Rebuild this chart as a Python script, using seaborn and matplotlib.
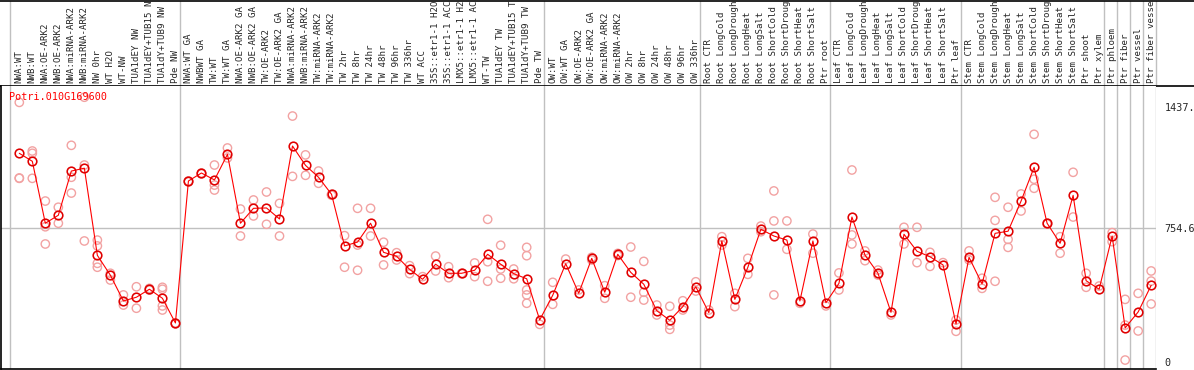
import matplotlib.pyplot as plt
import numpy as np
import pandas as pd
import seaborn as sns

gene_id = "Potri.010G169600"

samples = [
    "NWA:WT", "NWB:WT", "NWA:OE-ARK2", "NWB:OE-ARK2", "NWA:miRNA-ARK2",
    "NWB:miRNA-ARK2", "NW 0hr", "WT H2O", "WT-NW", "TUA1dEY NW",
    "TUA1dEY+TUB15 NW", "TUA1dY+TUB9 NW", "Pde NW",
    "NWA:WT GA", "NWBWT GA", "TW:WT", "TW:WT GA", "NWA:OE-ARK2 GA",
    "NWB:OE-ARK2 GA", "TW:OE-ARK2", "TW:OE-ARK2 GA", "NWA:miRNA-ARK2 GA",
    "NWB:miRNA-ARK2 GA", "TW:miRNA-ARK2", "TW:miRNA-ARK2", "TW 2hr", "TW 8hr",
    "TW 24hr", "TW 48hr", "TW 96hr", "TW 336hr", "WT ACC", "35S::etr1-1 H2O",
    "35S::etr1-1 ACC", "LMX5::etr1-1 H2O", "LMX5::etr1-1 ACC", "WT-TW",
    "TUA1dEY TW", "TUA1dEY+TUB15 TW", "TUA1dY+TUB9 TW", "Pde TW",
    "OW:WT", "OW:WT GA", "OW:OE-ARK2", "OW:OE-ARK2 GA", "OW:miRNA-ARK2",
    "OW:miRNA-ARK2", "OW 2hr", "OW 8hr", "OW 24hr", "OW 48hr", "OW 96hr",
    "OW 336hr",
    "Root CTR", "Root LongCold", "Root LongDrought", "Root LongHeat",
    "Root LongSalt", "Root ShortCold", "Root ShortDrought", "Root ShortHeat",
    "Root ShortSalt", "Ptr root",
    "Leaf CTR", "Leaf LongCold", "Leaf LongDrought", "Leaf LongHeat",
    "Leaf LongSalt", "Leaf ShortCold", "Leaf ShortDrought", "Leaf ShortHeat",
    "Leaf ShortSalt", "Ptr leaf",
    "Stem CTR", "Stem LongCold", "Stem LongDrought", "Stem LongHeat",
    "Stem LongSalt", "Stem ShortCold", "Stem ShortDrought", "Stem ShortHeat",
    "Stem ShortSalt", "Ptr shoot", "Ptr xylem",
    "Ptr phloem", "Ptr fiber", "Ptr vessel", "Ptr fiber vessel",
]

mean_expr = [
    1176, 1131, 782, 827, 1076, 1092, 601, 489, 344, 365, 410, 359, 220,
    1020, 1065, 1026, 1170, 782, 866, 868, 806, 1217, 1108, 1041, 945, 654,
    676, 782, 618, 596, 522, 466, 551, 500, 500, 517, 607, 551, 498, 469, 237,
    376, 554, 387, 584, 393, 607, 505, 438, 289, 235, 312, 424,
    278, 682, 353, 534, 748, 710, 687, 344, 682, 334,
    443, 817, 603, 500, 280, 720, 624, 593, 547, 214,
    590, 440, 725, 737, 907, 1097, 782, 669, 939, 458, 410,
    710, 192, 282, 432,
]

replicates = [
    [1463, 1035, 1037], [1189, 1176, 1035], [907, 762, 665], [872, 782],
    [1221, 1041, 952], [1492, 1110, 682], [687, 654, 556, 534], [500, 462],
    [378, 321], [424, 303], [405, 415], [421, 410, 316, 293], [220, 215],
    [1020, 1015], [1065, 1060], [1110, 997, 969], [1206, 1150], [862, 710],
    [913, 823], [958, 776], [894, 710], [1386, 1046], [1167, 1052],
    [1076, 1007], [945, 940], [712, 534], [866, 517, 659], [866, 710],
    [675, 547], [616, 575], [543, 498], [481], [597, 513], [537, 475],
    [500, 497], [558, 481], [804, 565, 455], [658, 524, 472], [524, 469],
    [646, 599, 406, 378, 331], [212],
    [449, 325], [580], [406], [590, 575], [430, 359], [600, 612], [648, 365],
    [567, 393, 349], [321, 265], [314, 208, 184], [345, 293], [452, 400],
    [293], [706, 659], [387, 312], [584, 494], [766, 734], [964, 795, 378],
    [795, 635], [331], [721, 613], [316],
    [502, 406], [1082, 716, 665], [626, 571], [518, 490], [265], [759, 665],
    [759, 560], [618, 539], [560], [237, 173],
    [626, 575], [472, 415], [928, 798, 455], [872, 691, 646], [947, 851],
    [1283, 1030, 979], [782, 778], [706, 613], [1069, 817], [500, 421], [428],
    [729, 678], [353, 11, 208], [387, 175], [513, 456, 327],
]

# last sample index of each tissue / experiment block
group_ends = [12, 40, 52, 62, 72, 83, 84, 85, 86, 87]
ref_level = 754.6
tick_values = [0, 754.6, 1437.2]
tick_labels = ["0", "754.6", "1437.2"]

# ---- pixel layout of the original picture ----
W, H = 1194, 370
X0_PX, STEP_PX = 19.3, 13.01          # pixel of first sample, pixels per sample
ZERO_PX, UNITS_PER_PX = 362.0, 5.635  # y pixel of value 0, value per pixel
RED = "#ff0000"
DARK_RED = "#e00000"
PINK = "#f2a2a2"
GRID = "#c0c0c0"
MONO = "DejaVu Sans Mono"


def xlim_px(left, right):
    return ((left - X0_PX) / STEP_PX, (right - X0_PX) / STEP_PX)


sns.set_style("white")
plt.rcParams["font.family"] = [MONO, "DejaVu Sans"]

idx = np.arange(len(samples))
mean_df = pd.DataFrame({"idx": idx, "value": mean_expr})
rep_df = pd.DataFrame(
    [(i, v) for i, reps in enumerate(replicates) for v in reps],
    columns=["idx", "value"],
)

fig = plt.figure(figsize=(W / 100, H / 100), dpi=100)

# header strip with sample names (long names run off the top, as in the source)
top, bottom = 86, 369
hdr = fig.add_axes([0, (H - top) / H, 1, (top - 0.5) / H])
hdr.set_xlim(*xlim_px(0, W))
hdr.set_ylim(0, top)
hdr.set_xticks([])
hdr.set_yticks([])
for side in ("left", "right"):
    hdr.spines[side].set_visible(False)
for side in ("top", "bottom"):
    hdr.spines[side].set_color("black")
    hdr.spines[side].set_linewidth(1.2)
for i, name in enumerate(samples):
    hdr.text(i, 3, name, rotation=90, ha="center", va="bottom",
             fontsize=6.6, family=MONO, clip_on=True)

# main expression panel
ax = fig.add_axes([1 / W, (H - bottom) / H, (1156 - 1) / W, (bottom - top) / H])
ax.set_xlim(*xlim_px(1, 1156))
ax.set_ylim((ZERO_PX - bottom) * UNITS_PER_PX, (ZERO_PX - top) * UNITS_PER_PX)

seps = [-0.7] + [e + 0.35 for e in group_ends]
for s in seps:
    hdr.axvline(s, color=GRID, lw=1, zorder=0)
    ax.axvline(s, color=GRID, lw=1, zorder=0)
ax.axhline(ref_level, color=GRID, lw=1, zorder=0)

sns.scatterplot(data=rep_df, x="idx", y="value", ax=ax, marker="o", s=36,
                facecolor="none", edgecolor=PINK, linewidth=1.0, zorder=2,
                legend=False)
sns.lineplot(data=mean_df, x="idx", y="value", ax=ax, color=RED, lw=0.8,
             marker="o", markersize=6.2, markerfacecolor="none",
             markeredgecolor=DARK_RED, markeredgewidth=1.15, zorder=3)

ax.set_xlabel("")
ax.set_ylabel("")
ax.set_xticks([])
ax.yaxis.tick_right()
ax.set_yticks(tick_values)
ax.set_yticklabels(tick_labels, family=MONO, fontsize=7.3)
ax.tick_params(axis="y", length=0, pad=6)
for side in ("top", "right"):
    ax.spines[side].set_visible(False)
for side in ("left", "bottom"):
    ax.spines[side].set_color("black")
    ax.spines[side].set_linewidth(1.2)

fig.text(9 / W, 1 - 97 / H, gene_id, color=RED, fontsize=7.3, family=MONO,
         ha="left", va="center")

fig.savefig("out.png", dpi=100)
